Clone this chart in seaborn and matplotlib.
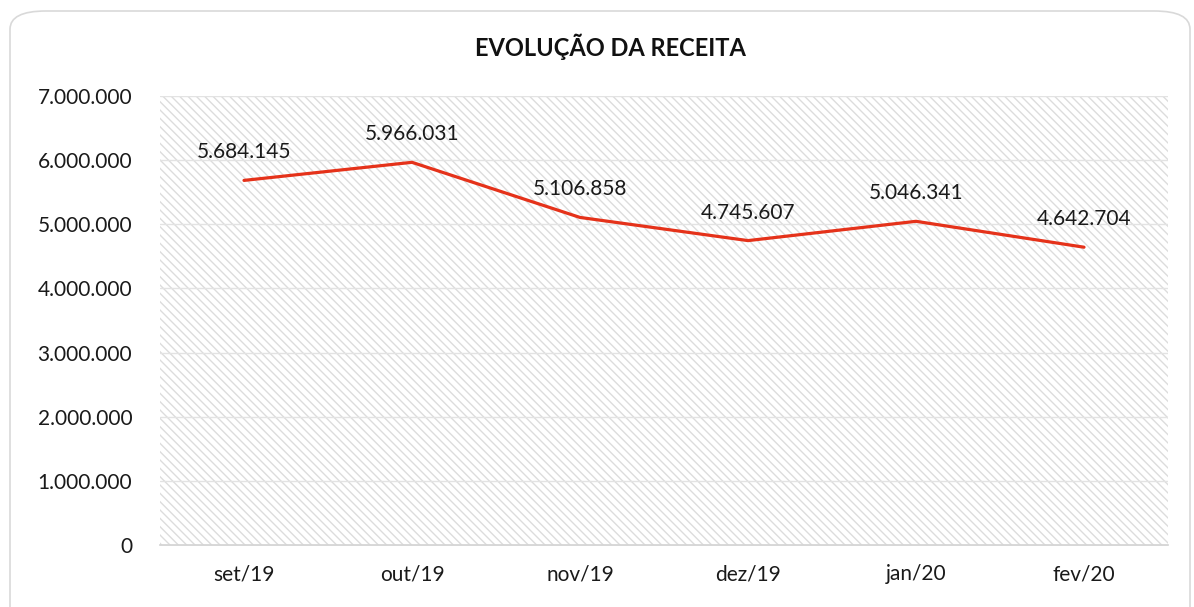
import matplotlib
matplotlib.use("Agg")
import matplotlib.pyplot as plt
import seaborn as sns
import pandas as pd
from matplotlib.patches import Rectangle, FancyBboxPatch
from matplotlib.ticker import FuncFormatter, MultipleLocator, FixedLocator

months = ["set/19", "out/19", "nov/19", "dez/19", "jan/20", "fev/20"]
receita = [5684145, 5966031, 5106858, 4745607, 5046341, 4642704]
title = "EVOLUÇÃO DA RECEITA"

sns.set_theme(style="white")
plt.rcParams['font.family'] = ['Lato', 'DejaVu Sans']
plt.rcParams['hatch.linewidth'] = 1.0
plt.rcParams['hatch.color'] = '#dcdcdc'

df = pd.DataFrame({"mes": months, "receita": receita, "x": range(len(months))})

fig = plt.figure(figsize=(11.94, 6.07), dpi=100)
fig.patch.set_facecolor('white')
border = FancyBboxPatch((10/1194, -0.05), 1180/1194, (607-11)/607 + 0.05,
                        boxstyle="round,pad=0,rounding_size=0.03",
                        transform=fig.transFigure, facecolor='none',
                        edgecolor='#d9d9d9', linewidth=1.2, zorder=-1)
fig.patches.append(border)

ax = fig.add_axes([160/1194, (607-545)/607, (1168-160)/1194, (545-96)/607])
ax.set_zorder(2)
ax.set_facecolor('none')
ax.add_patch(Rectangle((0, 0), 1, 1, transform=ax.transAxes, facecolor='white',
                       edgecolor='#dcdcdc', hatch='\\\\\\\\', linewidth=0, zorder=0))

sns.lineplot(data=df, x="x", y="receita", ax=ax, color='#E5321A', linewidth=2.3,
             zorder=3)

for xi, v in zip(df["x"], df["receita"]):
    lbl = f"{v:,}".replace(",", ".")
    ax.annotate(lbl, (xi, v), xytext=(0, 13), textcoords='offset points',
                ha='center', va='bottom', fontsize=15, color='#1a1a1a')

ax.set_xlim(-0.5, len(months) - 0.5)
ax.set_ylim(0, 7000000)
ax.yaxis.set_major_locator(MultipleLocator(1000000))
ax.yaxis.set_major_formatter(FuncFormatter(lambda v, p: f"{int(v):,}".replace(",", ".")))
ax.grid(axis='y', color='#e3e3e3', linewidth=1.0)
ax.set_axisbelow(False)
for gl in ax.get_ygridlines():
    gl.set_zorder(1)

ax.set_xticks(range(len(months)))
ax.set_xticklabels(months)
ax.xaxis.set_minor_locator(FixedLocator([i - 0.5 for i in range(len(months) + 1)]))
ax.tick_params(axis='x', which='major', length=0, pad=14, labelsize=15, labelcolor='#1a1a1a')
ax.tick_params(axis='x', which='minor', length=7, width=1.2, color='#d0d0d0', direction='inout')
ax.tick_params(axis='y', length=0, pad=20, labelsize=15, labelcolor='#1a1a1a')
ax.set_xlabel("")
ax.set_ylabel("")
for s in ['top', 'right', 'left']:
    ax.spines[s].set_visible(False)
ax.spines['bottom'].set_color('#d0d0d0')
ax.spines['bottom'].set_linewidth(1.2)

fig.text(610/1194, 1 - 47/607, title, ha='center', va='center', fontsize=17,
         fontweight='bold', color='#111111')

fig.savefig("out.png", dpi=100)
